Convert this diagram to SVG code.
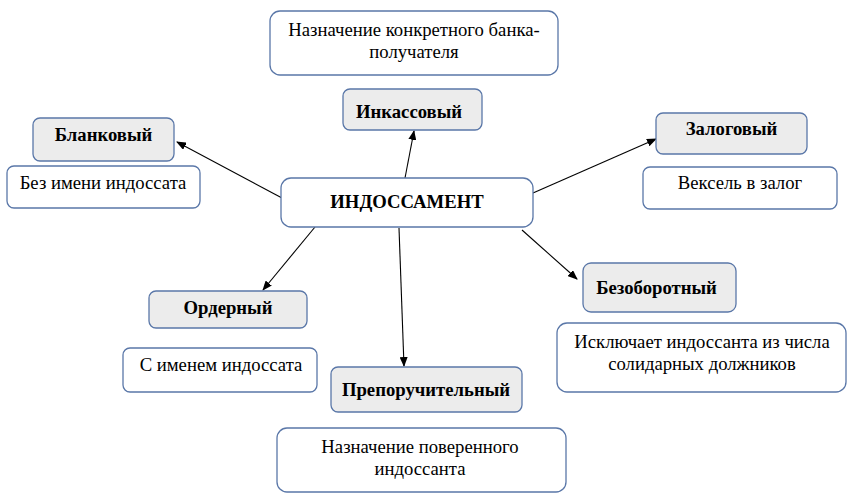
<svg xmlns="http://www.w3.org/2000/svg" width="865" height="503" viewBox="0 0 865 503">
<style>
.box{fill:#ffffff;stroke:#5a77a8;stroke-width:1.3}
.gbox{fill:#ececec;stroke:#5a77a8;stroke-width:1.3}
.t{font-size:18.7px;fill:#000;text-anchor:middle}
.b{font-weight:bold}
.conn line{stroke:#000;stroke-width:1.1;marker-end:url(#ah)}
</style>
<defs>
<marker id="ah" markerWidth="10" markerHeight="8" refX="9" refY="4" orient="auto" markerUnits="userSpaceOnUse">
<path d="M0,0 L10,4 L0,8 Z" fill="#000"/>
</marker>
</defs>
<rect width="865" height="503" fill="#fff"/>
<g class="conn">
<line x1="282" y1="198" x2="177" y2="142"/>
<line x1="405" y1="178" x2="414" y2="131"/>
<line x1="533" y1="193" x2="656" y2="139"/>
<line x1="315" y1="227" x2="263" y2="290"/>
<line x1="399" y1="228" x2="404" y2="366"/>
<line x1="522" y1="230" x2="577" y2="279"/>
</g>
<g class="t" font-family="'Liberation Serif', 'Times New Roman', serif">
<g id="top-desc"><rect class="box" x="270" y="11" width="288" height="64" rx="10"/><text x="414" y="36">Назначение конкретного банка-</text><text x="414" y="58">получателя</text></g>
<g id="inkasso"><rect class="gbox" x="343" y="89" width="139" height="41" rx="7"/><text class="b" x="409" y="118">Инкассовый</text></g>
<g id="blank"><rect class="gbox" x="33" y="118" width="141" height="43" rx="7"/><text class="b" x="103.5" y="141">Бланковый</text></g>
<g id="blank-desc"><rect class="box" x="7" y="166" width="193" height="42" rx="7"/><text x="103" y="189">Без имени индоссата</text></g>
<g id="zalog"><rect class="gbox" x="656" y="113" width="151" height="41" rx="7"/><text class="b" x="731.5" y="135">Залоговый</text></g>
<g id="zalog-desc"><rect class="box" x="643" y="167" width="194" height="42" rx="7"/><text x="740" y="189">Вексель в залог</text></g>
<g id="center"><rect class="box" x="281" y="178" width="252" height="49" rx="10"/><text class="b" x="407" y="208">ИНДОССАМЕНТ</text></g>
<g id="order"><rect class="gbox" x="149" y="291" width="158" height="37" rx="7"/><text class="b" x="228" y="314">Ордерный</text></g>
<g id="order-desc"><rect class="box" x="123" y="348" width="194" height="44" rx="7"/><text x="221" y="371">С именем индоссата</text></g>
<g id="prep"><rect class="gbox" x="331" y="367" width="191" height="45" rx="7"/><text class="b" x="426" y="396">Препоручительный</text></g>
<g id="prep-desc"><rect class="box" x="277" y="428" width="289" height="64" rx="10"/><text x="420" y="453">Назначение поверенного</text><text x="420" y="475">индоссанта</text></g>
<g id="bezob"><rect class="gbox" x="583" y="263" width="153" height="49" rx="8"/><text class="b" x="656.5" y="294">Безоборотный</text></g>
<g id="bezob-desc"><rect class="box" x="557" y="323" width="289" height="69" rx="10"/><text x="702" y="348">Исключает индоссанта из числа</text><text x="702" y="370">солидарных должников</text></g>
</g>
</svg>
